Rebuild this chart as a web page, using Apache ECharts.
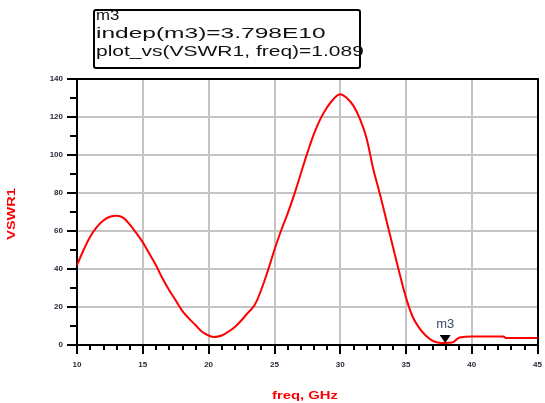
<!DOCTYPE html>
<html><head><meta charset="utf-8">
<script src="https://cdn.jsdelivr.net/npm/echarts@6/dist/echarts.min.js"></script>
<style>html,body{margin:0;padding:0;background:#fff}#c{width:545px;height:403px}</style>
</head><body><div id="c"></div>
<script>
var freqGHz = [10.0,10.5,11.0,11.5,12.0,12.5,13.0,13.5,14.0,14.5,15.0,15.5,16.0,16.5,17.0,17.5,18.0,18.5,19.0,19.5,20.0,20.4,21.0,21.5,22.0,22.5,23.0,23.5,24.0,24.5,25.0,25.5,26.0,26.5,27.0,27.5,28.0,28.5,29.0,29.5,30.0,30.5,31.0,31.5,32.0,32.5,33.0,33.5,34.0,34.5,35.0,35.5,36.0,36.5,37.0,37.5,37.98,38.5,39.0,39.5,40.0,42.4,42.6,45.0];
var vswr1 = [42,50,57,62,65.5,67.5,68,67,63.5,59,54,48,42,35,29,23.5,18,14,10.5,7,5,4.2,5,7,9.5,13,17,21,29,39,50,60,69,79,90,101,111,119,125,129.5,132,130,126,119,109,93,80,66,52,38,25,15,9,5,2.3,1.2,1.089,1.3,3.7,4.3,4.5,4.5,3.7,3.7];
var markerName = 'm3';
var markerFreq = 37.98;
var markerValue = 1.089;
var infoLines = ['m3', 'indep(m3)=3.798E10', 'plot_vs(VSWR1, freq)=1.089'];
var xTitle = 'freq, GHz';
var yTitle = 'VSWR1';

var chart = echarts.init(document.getElementById('c'));
var pts = freqGHz.map(function(f,i){return [f, vswr1[i]];});
var lblStyle = {color:'#2a2a3a', fontSize:8, fontFamily:'Liberation Sans', fontWeight:'bold'};
chart.setOption({
  animation:false,
  grid:{left:77, top:79, width:465, height:266, containLabel:false},
  xAxis:[{type:'value', min:10, max:45, interval:5,
    axisLine:{show:true, onZero:false, lineStyle:{color:'#000', width:2}},
    axisTick:{show:true, length:9, inside:false, lineStyle:{color:'#000', width:2}},
    minorTick:{show:true, splitNumber:5, length:5, lineStyle:{color:'#000', width:2}},
    splitLine:{show:true, lineStyle:{color:'#c4c4c4', width:2}},
    axisLabel:Object.assign({margin:16}, lblStyle)},
    {type:'value', position:'top', min:10, max:45, interval:5,
     axisLine:{show:true, onZero:false, lineStyle:{color:'#000', width:2}},
     axisTick:{show:false}, axisLabel:{show:false}, splitLine:{show:false}}],
  yAxis:[{type:'value', min:0, max:140, interval:20,
    axisLine:{show:true, onZero:false, lineStyle:{color:'#000', width:2}},
    axisTick:{show:true, length:10, lineStyle:{color:'#000', width:2}},
    minorTick:{show:true, splitNumber:2, length:7, lineStyle:{color:'#000', width:2}},
    splitLine:{show:true, lineStyle:{color:'#c4c4c4', width:2}},
    axisLabel:Object.assign({margin:14}, lblStyle)},
    {type:'value', position:'right', min:0, max:140, interval:20,
     axisLine:{show:true, onZero:false, lineStyle:{color:'#000', width:2}},
     axisTick:{show:false}, axisLabel:{show:false}, splitLine:{show:false}}],
  series:[{type:'line', data:pts, showSymbol:false, smooth:0.4,
    lineStyle:{color:'#ff0000', width:2}, itemStyle:{color:'#ff0000'},
    markPoint:{symbol:'triangle', symbolSize:[11,8], symbolRotate:180, symbolOffset:[0,-4],
      itemStyle:{color:'#000'},
      label:{show:true, position:'top', distance:4, formatter:markerName, color:'#3a4a6a', fontSize:13, fontFamily:'Liberation Sans'},
      data:[{coord:[markerFreq, markerValue]}]}}],
  graphic:[
    {type:'rect', shape:{x:94, y:10, width:266, height:58, r:2}, style:{fill:'#fff', stroke:'#000', lineWidth:2}},
    {type:'text', x:96, y:9, style:{text:infoLines[0], fontSize:14, fontFamily:'Liberation Sans', fill:'#111'}, scaleX:1.2},
    {type:'text', x:96, y:27, style:{text:infoLines[1], fontSize:14, fontFamily:'Liberation Sans', fill:'#111'}, scaleX:1.75},
    {type:'text', x:96, y:45, style:{text:infoLines[2], fontSize:14, fontFamily:'Liberation Sans', fill:'#111'}, scaleX:1.5},
    {type:'text', x:12, y:214, rotation:Math.PI/2, style:{text:yTitle, fontSize:10, fontFamily:'Liberation Sans', fontWeight:'bold', fill:'#ff0000', align:'center', verticalAlign:'middle'}, scaleX:1.45},
    {type:'text', x:305, y:396, style:{text:xTitle, fontSize:11, fontFamily:'Liberation Sans', fontWeight:'bold', fill:'#ff0000', align:'center', verticalAlign:'middle'}, scaleX:1.35}
  ]
});
</script></body></html>
